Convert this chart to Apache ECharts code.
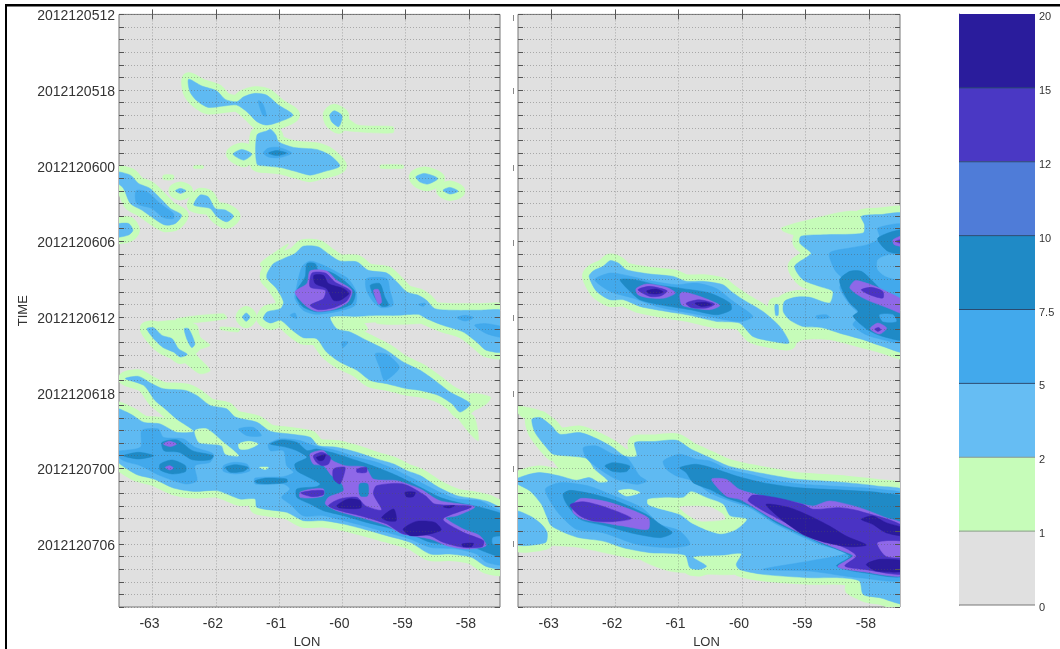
<!DOCTYPE html>
<html><head><meta charset="utf-8">
<style>html,body{margin:0;padding:0;background:#fff}#c{width:1060px;height:649px;filter:blur(0.45px)}</style>
<script src="https://cdn.jsdelivr.net/npm/echarts@6/dist/echarts.min.js"></script>
</head><body><div id="c"></div>
<script>
// Tick labels and colour-bar classes
const timeLabels = ['2012120512','2012120518','2012120600','2012120606','2012120612','2012120618','2012120700','2012120706'];
const lonTicks = [-63,-62,-61,-60,-59,-58];
const classBreaks = ['0','1','2','5','7.5','10','12','15','20'];
const barColors = ['#e0e0e0','#c6fcb9','#66bdf3','#42a9ec','#1f8ac6','#4f7cd8','#4a38c4','#2a1c9c'];
const fieldColors = ['#e0e0e0','#c6fcb9','#5fbaf2','#42a9ec','#1f8ac6','#8f68e8','#4a33c4','#2a1a9c'];

// Contour regions: flat lists of lon, hours-since-2012120512
const leftGreen = [
[-60,8,-59.75,8.78,-59.2,8.91,-59.2,9.39,-59.75,9.31,-60.04,9.04],
[-62.35,12,-62.2,12,-62.2,12.2,-62.35,12.2],
[-59.4,11.95,-59.04,11.95,-59.04,12.2,-59.4,12.2],
[-62.83,12.75,-62.67,12.75,-62.67,13.1,-62.83,13.1],
[-63.19,24.93,-63.09,24.53,-62.62,24.26,-62.3,24.66,-62.25,25.59,-62.09,26.25,-62.33,26.78,-62.09,28.23,-62.25,28.5,-62.51,27.57,-62.77,26.78,-63.09,25.85],
[-62.62,24.13,-61.88,23.74,-61.83,24.13,-62.62,24.53],
[-61.93,24.79,-61.62,24.93,-61.65,25.19,-61.93,25],
[-61.3,19.77,-61.06,18.84,-60.85,18.2,-61.19,20.3],
[-61.19,21.6,-60.93,21.6,-60.98,23.47,-61.2,23.6,-61.05,22.9],
[-60.19,24,-59.77,24,-59.6,25,-59.9,25.3,-60.12,25],
[-59.46,23.87,-58.78,23.87,-58.62,24.4,-59.04,24.58,-59.46,24.5],
[-57.98,30.1,-57.66,30.35,-57.72,30.88,-57.96,31.4],
[-58.22,31.56,-57.93,31.82,-57.85,33.8,-57.98,33.28]
];
const leftL2 = [
[-62.43,5.15,-62.22,5.68,-61.99,6.05,-61.85,6.74,-61.67,6.93,-61.56,6.53,-61.38,6.26,-61.2,6.4,-61.01,7.19,-60.78,7.98,-60.99,8.51,-61.2,8.78,-61.35,8.51,-61.51,7.72,-61.67,7.19,-61.88,7.27,-62.12,7.38,-62.3,6.85,-62.41,6.13],
[-61.35,9.57,-61.19,9.23,-61.13,9.12,-61.05,9.57,-61.01,10.1,-60.77,10.55,-60.41,10.71,-60.2,11.16,-60.04,12.03,-60.3,12.48,-60.51,12.75,-60.72,12.48,-60.98,12.14,-61.19,12.03,-61.35,11.87],
[-61.73,11.08,-61.59,10.71,-61.43,11.08,-61.56,11.56],
[-60.2,7.98,-60.13,7.64,-60.01,7.98,-60.01,8.38,-60.06,8.91,-60.17,8.51],
[-58.84,12.88,-58.7,12.61,-58.49,13.01,-58.65,13.46,-58.78,13.28],
[-58.41,13.94,-58.3,13.72,-58.17,14.02,-58.3,14.25],
[-62.64,13.99,-62.56,13.8,-62.47,13.99,-62.56,14.2],
[-62.35,15.1,-62.25,14.33,-62.12,14.47,-62.01,15.39,-61.85,15.52,-61.72,16,-61.83,16.45,-61.98,16.05,-62.09,15.39,-62.25,15.26],
[-63.6,12.48,-63.35,12.75,-63.22,13.41,-63.04,13.8,-62.85,14.73,-62.72,15.39,-62.54,15.92,-62.64,16.58,-62.8,16.71,-62.98,16.19,-63.17,15.52,-63.35,15,-63.46,13.8,-63.6,13.14],
[-63.6,16.71,-63.38,16.58,-63.31,17.11,-63.38,17.5,-63.6,17.64],
[-61.19,20.56,-61.09,19.77,-60.93,19.37,-60.75,18.97,-60.62,18.39,-60.38,18.44,-60.19,19.11,-60.04,19.56,-59.77,19.63,-59.59,20.3,-59.3,20.51,-59.14,21.22,-58.98,22.02,-58.8,22.28,-58.67,22.68,-58.54,23.34,-58.19,23.47,-57.88,23.47,-57.4,23.6,-57.4,26.7,-57.72,26.65,-57.88,25.98,-58.09,25.19,-58.41,24.66,-58.67,24.13,-58.8,23.79,-59.14,23.87,-59.46,23.87,-59.77,23.95,-60.19,24,-60.09,24.93,-59.88,25.19,-59.62,25.85,-59.3,26.65,-59.04,27.57,-58.77,28.23,-58.54,29.03,-58.3,29.95,-57.98,30.88,-58.14,31.54,-58.27,30.88,-58.48,30.22,-58.77,29.82,-58.98,29.69,-59.3,29.29,-59.56,29.03,-59.77,28.23,-60.04,27.57,-60.25,26.78,-60.41,25.72,-60.62,25.64,-60.8,25.01,-60.98,24.26,-61.14,24.48,-61.25,24.13,-61.19,23.6,-60.98,23.34,-60.93,22.81,-61.04,21.75,-61.19,20.96],
[-61.52,23.68,-61.46,24,-61.52,24.34,-61.58,24],
[-63.09,24.93,-62.98,24.85,-62.85,25.46,-62.69,25.72,-62.59,26.51,-62.45,26.96,-62.56,27.17,-62.67,26.78,-62.83,26.43,-62.96,25.85],
[-62.5,24.93,-62.43,24.93,-62.33,26.12,-62.38,26.43,-62.45,25.85],
[-63.43,28.89,-63.22,28.71,-63.01,29.29,-62.83,29.69,-62.48,29.82,-62.3,30.22,-62.09,31.01,-61.83,31.28,-61.69,31.94,-61.35,32.35,-61.14,33.06,-60.83,33.28,-60.51,33.54,-60.38,34.2,-60.09,34.33,-59.77,34.73,-59.46,35.26,-59.19,35.66,-58.98,36.19,-58.77,36.58,-58.48,37.51,-58.19,38.17,-57.88,38.43,-57.67,38.7,-57.4,39.62,-57.4,43.86,-57.72,43.8,-57.96,43.06,-58.3,42.8,-58.61,42.8,-58.93,41.87,-59.3,41.34,-59.67,40.81,-59.98,40.42,-60.3,40.15,-60.62,40.15,-60.88,39.49,-61.35,39.1,-61.38,38.43,-61.62,38.43,-61.98,37.77,-62.35,37.83,-62.67,37.56,-62.98,36.85,-63.27,36.45,-63.6,35.13,-63.6,31.29,-63.35,31.69,-63.14,32.35,-62.88,32.48,-62.62,33.14,-62.35,33.06,-62.62,32.09,-62.8,31.29,-62.96,30.63,-63.14,29.42]
];
const leftHoles = [
[-62.33,33.01,-62.14,32.88,-61.88,33.94,-61.64,35,-61.85,34.87,-61.91,34.2,-62.12,34.07,-62.27,33.94],
[-61.64,34.07,-61.48,33.86,-61.33,34.07,-61.49,34.47,-61.62,34.47],
[-61.31,35.92,-61.17,35.92,-61.22,36.1]
];
const leftL3 = [
[-61.25,11,-61.17,10.6,-61,10.55,-60.8,11,-61,11.37,-61.17,11.3],
[-63.26,13.99,-63.09,14.07,-62.88,15,-62.67,15.79,-62.67,16.19,-62.83,16.11,-63.01,15.39,-63.25,15],
[-61.33,6.85,-61.26,7.06,-61.2,8.06,-61.26,7.98],
[-60.73,21.75,-60.64,20.03,-60.51,19.56,-60.3,19.9,-60.09,20.43,-59.91,20.96,-59.78,22.02,-59.8,23.07,-60.04,23.52,-60.41,23.79,-60.62,23.47,-60.75,22.54],
[-59.62,20.96,-59.3,20.96,-59.25,21.88,-59.2,23.07,-59.38,23.26,-59.51,22.81,-59.62,21.88],
[-58.8,23,-58.69,22.9,-58.72,23.15],
[-58.19,24.05,-58.06,23.87,-57.93,24.05,-58.06,24.32],
[-57.91,24.66,-57.72,24.53,-57.4,24.93,-57.4,25.64,-57.72,25.32],
[-60.01,25.98,-59.91,25.98,-59.99,26.43],
[-59.48,26.91,-59.3,26.96,-59.1,28,-59.33,29.03,-59.41,28],
[-60.83,23.87,-60.75,23.68,-60.72,24.13],
[-63.6,34.73,-63.19,34.33,-63.17,33.01,-62.91,32.88,-62.83,33.54,-62.51,33.67,-62.33,34.33,-62.04,34.86,-62.09,35.52,-62.33,35.79,-62.3,36.98,-62.48,37.24,-62.88,36.58,-63.19,35.79,-63.46,35.39],
[-61.88,35.79,-61.72,35.52,-61.51,35.66,-61.46,36.19,-61.69,36.45,-61.88,36.24],
[-61.64,32.88,-61.41,32.75,-61.28,33.41,-61.51,33.41],
[-61.17,34.07,-60.98,33.67,-60.67,33.8,-60.46,34.2,-60.09,34.6,-59.77,35.13,-59.46,35.52,-59.19,36.05,-58.98,36.58,-58.77,37.11,-58.46,37.9,-58.19,38.43,-57.83,38.57,-57.62,39.1,-57.4,39.76,-57.4,43.59,-57.72,43.46,-57.88,42.8,-58.19,42.4,-58.61,42.27,-58.93,41.61,-59.3,41.08,-59.67,40.55,-59.98,40.15,-60.3,39.76,-60.62,39.76,-60.83,38.83,-60.96,38.3,-60.83,37.64,-60.93,37.24,-61.38,37.24,-61.38,36.77,-60.93,36.66,-60.77,36.32,-60.88,35.79,-60.93,34.6,-61.14,34.6]
];
const leftL4 = [
[-61.17,11,-61.04,10.8,-60.88,11,-61.04,11.2],
[-60.72,21.88,-60.59,20.83,-60.56,19.77,-60.43,19.77,-60.38,20.3,-60.19,20.43,-59.98,21.09,-59.8,22.02,-59.85,22.94,-60.09,23.41,-60.41,23.6,-60.62,23.21,-60.72,22.54],
[-59.56,21.49,-59.41,21.35,-59.33,22.41,-59.27,23.07,-59.38,23.15,-59.48,22.54],
[-62.85,33.94,-62.61,33.75,-62.37,34.6,-62.04,34.99,-62.09,35.33,-62.37,35.33,-62.58,34.73,-62.82,34.6],
[-62.88,35.66,-62.69,35.34,-62.48,35.79,-62.48,36.26,-62.69,36.45,-62.88,36.13],
[-63.46,35,-63.22,34.73,-62.98,35,-63.22,35.26],
[-61.85,35.92,-61.69,35.71,-61.49,35.92,-61.56,36.24,-61.77,36.32],
[-61.38,36.98,-61.19,36.77,-60.88,36.85,-60.88,37.11,-61.14,37.24,-61.35,37.19],
[-61.14,34.07,-60.96,33.75,-60.72,33.94,-60.56,34.6,-60.41,34.47,-60.09,34.86,-59.77,35.39,-59.46,35.92,-59.14,36.58,-58.77,37.51,-58.46,38.3,-58.19,38.7,-57.93,38.96,-57.72,39.23,-57.4,39.89,-57.4,43.06,-57.72,42.67,-57.93,42.27,-58.19,42.14,-58.61,41.87,-58.93,41.21,-59.3,40.68,-59.62,40.29,-59.98,39.76,-60.3,39.36,-60.51,38.83,-60.72,38.3,-60.72,37.64,-60.41,37.46,-60.35,37.24,-60.51,36.77,-60.72,36.19,-60.75,35.66,-60.56,35.13,-60.72,34.6,-60.93,34.28]
];
const leftL5 = [
[-60.75,22.02,-60.56,21.35,-60.51,20.35,-60.25,20.35,-60.09,21.09,-59.85,21.88,-59.91,22.81,-60.14,23.41,-60.41,23.55,-60.59,23.07],
[-59.51,21.88,-59.43,21.83,-59.38,22.81,-59.43,22.99],
[-62.83,34.07,-62.73,33.86,-62.62,34.07,-62.72,34.28],
[-62.8,35.92,-62.73,35.79,-62.67,35.97,-62.73,36.13],
[-60.51,34.86,-60.3,34.6,-60.17,35.34,-59.96,35.79,-59.64,35.92,-59.51,36.85,-59.14,36.98,-58.77,37.64,-58.46,38.57,-57.91,39.04,-58.19,39.76,-58.37,39.94,-58.09,40.81,-57.83,41.34,-57.73,42.14,-58.04,42.4,-58.35,42.14,-58.61,41.61,-59.04,41.21,-59.3,40.55,-59.72,39.89,-60.09,39.36,-60.27,38.83,-60.22,38.3,-59.98,37.77,-60.04,36.98,-60.17,36.58,-60.3,35.79,-60.46,35.66],
[-60.67,37.9,-60.48,37.64,-60.3,37.64,-60.3,38.17,-60.48,38.35,-60.67,38.3]
];
const leftL6 = [
[-60.51,21.62,-60.48,20.51,-60.27,20.51,-60.12,21.22,-59.87,21.94,-59.93,22.73,-60.14,23.26,-60.38,23.42,-60.51,23.07,-60.3,22.54,-60.27,21.88],
[-60.66,37.96,-60.48,37.77,-60.3,37.77,-60.3,38.09,-60.48,38.25],
[-60.46,35,-60.32,34.73,-60.19,35.13,-60.22,35.66,-60.32,35.79,-60.41,35.52],
[-60.14,36.05,-59.96,35.92,-59.98,36.58,-60.04,37.24,-60.14,36.85],
[-59.77,36.05,-59.62,35.92,-59.62,36.32,-59.77,36.32],
[-60.22,38.96,-60.04,38.43,-59.77,38.3,-59.64,38.96,-59.38,39.31,-59.51,38.04,-59.46,37.38,-59.04,37.24,-58.69,38.17,-58.54,38.83,-57.96,39.04,-58.41,40.02,-58.09,41.08,-57.77,41.74,-57.79,42.22,-58.09,42.27,-58.41,41.87,-58.62,41.34,-59.04,41.21,-59.3,40.42,-59.72,39.76,-60.04,39.36]
];
const leftL7 = [
[-60.45,20.69,-60.3,20.69,-60.22,21.35,-59.98,21.75,-59.9,22.15,-60.04,22.68,-60.14,22.68,-60.25,21.75,-60.43,21.35],
[-60.41,35.13,-60.27,34.92,-60.3,35.34,-60.37,35.39],
[-60.09,38.96,-59.91,38.43,-59.72,38.57,-59.71,39.15,-60.04,39.15],
[-59.04,40.82,-58.83,40.21,-58.54,40.29,-58.44,40.89,-58.67,41.26,-58.93,41.34],
[-59.38,39.89,-59.19,39.23,-59.15,40.15,-59.3,40.15],
[-59.01,37.9,-58.85,37.9,-58.88,38.25,-58.99,38.25],
[-58.41,39.04,-58.23,38.96,-58.31,39.15],
[-58.11,42,-57.93,41.95,-57.96,42.22,-58.09,42.22]
];
const leftPatches = [
[4,-59.73,37.24,-59.6,37.24,-59.6,38.17,-59.72,38.17],
[3,-57.62,41.48,-57.4,41.48,-57.4,42,-57.62,42]
];

const rightGreen = [
[-59.38,16.94,-59.04,16.41,-58.2,15.62,-58.09,17.34,-58.67,17.47,-59.09,17.6,-59.35,17.2],
[-59.56,23.03,-59.35,22.63,-59.04,24.88,-58.62,25.14,-57.99,26.07,-57.4,26.94,-57.4,27.26,-57.99,26.6,-58.62,25.8,-59.04,25.8,-59.27,26.33,-59.41,24.75],
[-61.71,42.56,-59.98,42.56,-60.04,44.28,-60.51,44.41,-61.14,44.15,-61.56,43.36],
[-63.6,37.14,-63,39.78,-63,40.58,-62.61,41.64,-61.56,43,-61.61,43.26,-62.61,42.25,-63.08,42.12,-63.6,42.12],
[-63.6,31.05,-63.18,31.45,-63.44,32],
[-58.36,45.2,-58.12,44.94,-58.09,46.1,-57.4,46.93,-58.09,46.5,-58.36,45.86],
[-63,35.02,-62.45,35.55,-62.11,37.14,-62.4,37,-62.87,36.08]
];
const rightL2 = [
[-62.41,20.78,-62.34,20.33,-62.19,19.98,-62.08,19.53,-61.95,19.72,-61.82,20.25,-61.45,20.59,-61.08,20.78,-60.88,21.17,-60.61,21.17,-60.3,21.44,-60.17,21.97,-59.98,22.63,-59.67,23.56,-59.43,24.61,-59.33,25.28,-59.26,26.07,-59.51,25.94,-59.83,25.54,-60.04,24.48,-60.4,24.35,-60.82,23.87,-61.03,23.69,-61.35,23.42,-61.61,23.16,-61.87,22.63,-62.08,22.63,-62.29,21.97],
[-59.48,23.03,-59.43,23.03,-59.43,23.87,-59.47,23.87],
[-58.12,16.02,-57.83,15.88,-57.4,15.94,-57.4,26.73,-57.78,26.33,-58.09,25.8,-58.46,25.28,-58.75,24.83,-59.04,24.75,-59.25,24.22,-59.35,23.56,-59.33,22.76,-59.14,22.42,-58.93,22.44,-58.62,22.89,-58.57,21.97,-58.78,21.57,-59.04,21.04,-59.17,19.98,-58.96,19.19,-58.91,18.93,-59.09,18.13,-59.07,17.6,-58.67,17.47,-58.09,17.34,-58.07,16.68],
[-63.31,32.11,-63.18,31.98,-63,32.64,-62.87,33.3,-62.55,33.17,-62.27,33.7,-62.03,34.36,-61.85,35.02,-61.66,35.02,-61.69,33.96,-61.4,33.88,-61.03,33.78,-60.8,34.49,-60.51,35.15,-60.22,35.81,-59.88,36.21,-59.46,36.61,-59.14,36.87,-58.72,37.01,-58.36,37.14,-57.88,37.4,-57.4,37.93,-57.4,46.66,-57.83,46.26,-58.09,46,-58.15,44.94,-58.46,44.68,-58.93,44.68,-59.67,44.41,-60.04,44.02,-60.09,43.62,-60.01,42.77,-60.3,42.88,-60.77,43.04,-60.56,43.75,-60.67,44.02,-60.82,43.88,-60.9,42.88,-61.45,42.69,-61.87,42.3,-62.19,41.77,-62.61,41.45,-63,40.58,-63.08,39.78,-63.16,38.86,-63.34,37.8,-63.6,37.01,-63.39,36.53,-63.18,36.34,-62.87,36.61,-62.61,36.95,-62.4,36.74,-62.24,37.14,-62.11,37.01,-62.32,36.08,-62.45,35.21,-62.97,34.89,-63.08,34.36,-63.26,33.17],
[-63.6,39.39,-63.34,39.78,-63.16,40.44,-63.07,41.11,-63.1,41.9,-63.6,41.98]
];
const rightHoles = [
[-61.48,38.46,-61.19,38.33,-60.93,38.33,-60.8,37.85,-60.56,38.33,-60.3,38.86,-60.19,39.78,-59.93,40.05,-60.09,40.84,-60.32,41.19,-60.51,40.97,-60.8,40.31,-60.98,39.65,-61.35,39.12,-61.48,38.86],
[-61.95,37.8,-61.77,37.67,-61.61,37.93,-61.82,38.2]
];
const rightL3 = [
[-62.32,21.04,-62.08,20.51,-61.82,20.7,-61.4,21.17,-61.03,21.44,-60.72,21.31,-60.4,21.75,-60.14,22.76,-59.83,23.95,-60.01,24.35,-60.4,24.09,-60.82,23.69,-61.35,23.16,-61.72,22.5,-62.08,21.97],
[-57.86,16.94,-57.4,16.81,-57.4,25.94,-57.88,25.67,-58.09,25.28,-58.25,24.61,-58.15,23.82,-58.3,23.03,-58.46,21.7,-58.41,21.04,-58.54,20.25,-58.62,18.93,-58.3,18.53,-58.02,18.26,-57.83,17.74],
[-58.83,23.9,-58.67,23.82,-58.62,24.04,-58.81,24.14],
[-62.5,34.36,-62.29,34.23,-62.03,34.89,-61.82,35.12,-61.61,36.61,-61.5,37.01,-61.66,37.27,-61.98,36.87,-62.24,36.08,-62.45,35.21],
[-63.1,37.67,-62.87,37.14,-62.42,37.4,-62.08,38.06,-61.58,39.12,-61.29,40.44,-60.98,40.97,-60.82,42.03,-61.14,42.3,-61.66,42.03,-62.19,41.11,-62.61,40.84,-62.92,39.39],
[-61.24,35.42,-60.98,34.89,-60.72,35.29,-60.51,35.42,-60.22,36.08,-59.88,36.48,-59.46,37.01,-59.04,37.27,-58.62,37.4,-58.15,37.53,-57.83,37.67,-57.4,38.2,-57.4,44.68,-58.15,44.68,-58.93,44.15,-59.67,44.02,-58.93,43.35,-58.33,42.69,-58.78,42.03,-59.46,40.44,-59.88,39.12,-60.19,38.59,-60.51,37.93,-60.77,37.01,-61.03,36.61,-61.19,36.08]
];
const rightL4 = [
[-61.92,21.04,-61.69,21.04,-61.35,21.44,-60.93,21.75,-60.51,22.1,-60.19,22.89,-60.17,23.42,-60.4,23.82,-60.82,23.42,-61.29,23.03,-61.61,22.63,-61.79,21.84],
[-58.46,21.04,-58.3,20.38,-58.12,20.38,-57.94,21.17,-57.67,22.5,-57.4,23.03,-57.4,25.8,-57.78,25.54,-58.02,25.01,-58.25,23.95,-58.17,23.56,-58.3,22.89,-58.41,21.97],
[-57.86,17.74,-57.4,17.07,-57.4,18.93,-57.7,18.79],
[-62.16,35.81,-62.03,35.55,-61.77,35.81,-61.82,36.26,-62.03,36.26],
[-62.82,38.06,-62.71,37.75,-62.34,38.06,-61.98,38.59,-61.51,39.65,-61.29,40.44,-61.1,41.11,-61.29,41.5,-61.76,41.11,-62.13,40.58,-62.55,40.05,-62.76,38.86],
[-60.98,35.95,-60.72,35.68,-60.4,36.08,-60.09,36.61,-59.67,37.14,-59.14,37.53,-58.67,37.67,-58.15,37.8,-57.83,37.93,-57.4,38.46,-57.4,44.41,-58.09,44.28,-58.51,43.75,-58.3,42.96,-58.78,41.9,-59.46,40.31,-59.88,38.99,-60.25,38.33,-60.51,37.67,-60.77,37.14,-60.88,36.34]
];
const rightL5 = [
[-61.67,21.76,-61.5,21.38,-61.19,21.65,-61.05,22.1,-61.22,22.5,-61.45,22.5,-61.64,22.23],
[-60.98,22.23,-60.93,22.02,-60.67,22.36,-60.35,23.08,-60.51,23.42,-60.82,23.24,-60.95,23.03],
[-57.62,17.87,-57.4,17.47,-57.4,18.4,-57.6,18.26],
[-58.3,21.7,-58.22,21.12,-58.04,21.31,-57.78,21.84,-57.4,22.89,-57.4,23.82,-57.7,23.29,-58.09,22.5],
[-57.98,24.93,-57.86,24.48,-57.72,24.88,-57.83,25.35],
[-62.66,38.86,-62.53,38.38,-62.08,38.72,-61.48,39.92,-61.48,40.84,-61.87,40.58,-62.19,40.31,-62.5,40.05,-62.66,39.52],
[-60.48,36.87,-60.25,36.87,-60.04,37.67,-59.67,38.2,-59.14,38.72,-58.88,38.99,-58.62,38.59,-58.15,39.12,-57.73,39.92,-57.4,40.58,-57.4,44.41,-58.09,44.2,-58.49,43.8,-58.25,42.96,-58.41,42.56,-58.93,41.5,-59.46,40.18,-59.85,38.99,-60.04,38.46,-60.25,38.2]
];
const rightL6 = [
[-61.64,21.84,-61.45,21.57,-61.18,21.92,-61.27,22.31,-61.45,22.37],
[-60.88,22.9,-60.67,22.63,-60.43,22.97,-60.56,23.29,-60.8,23.24],
[-57.58,18,-57.4,17.79,-57.4,18.26],
[-58.12,21.84,-57.96,21.65,-57.78,21.97,-57.78,22.5,-57.99,22.23],
[-57.91,24.96,-57.85,24.83,-57.81,25.01,-57.86,25.14],
[-62.71,38.91,-62.5,38.65,-62.13,39.12,-61.74,39.97,-62.03,40.23,-62.34,40.18,-62.55,39.78],
[-59.9,38.59,-59.83,38.12,-59.46,38.33,-59.04,38.86,-58.88,39.25,-58.46,39.12,-58.15,39.39,-57.4,40.84,-57.4,44.28,-58.07,44.02,-58.38,43.75,-58.2,42.96,-58.38,42.3,-58.93,41.24,-59.46,39.92]
];
const rightL7 = [
[-61.5,21.92,-61.35,21.78,-61.24,22.02,-61.35,22.18,-61.48,22.1],
[-60.74,22.9,-60.56,22.84,-60.48,23.03,-60.64,23.16],
[-59.62,38.86,-59.25,39.12,-58.93,39.78,-58.62,40.58,-58.36,41.37,-58.04,42.08,-58.3,42.22,-58.67,41.9,-59.04,41.24,-59.41,39.92],
[-58.04,43.62,-57.83,43.22,-57.4,43.41,-57.4,44.15,-57.88,44.15],
[-58.12,40.05,-57.94,39.78,-57.73,40.31,-57.4,40.84,-57.4,41.37,-57.73,41.11,-57.94,40.44]
];
const rightPatches = [
[2,-57.86,19.46,-57.68,19.06,-57.4,19.19,-57.4,21.04,-57.73,20.78,-57.86,20.25],
[3,-57.83,23.82,-57.62,23.82,-57.57,24.35,-57.78,24.35],
[5,-57.86,41.9,-57.4,41.9,-57.4,42.96,-57.73,42.96],
[0,-60.98,39.07,-60.51,39.07,-60.3,39.65,-60.27,40.05,-60.66,40.18,-60.87,39.65]
];

function buildShapes(g, l2, holes, l3, l4, l5, l6, l7, patches) {
  const s = [];
  const add = (list, level, halo) => list.forEach(p => s.push({level, pts: p, halo: !!halo}));
  add(g, 1);
  add(l2, 1, true);
  add(l2, 2);
  add(holes, 1);
  add(l3, 3); add(l4, 4); add(l5, 5); add(l6, 6); add(l7, 7);
  patches.forEach(p => s.push({level: p[0], pts: p.slice(1), halo: false}));
  return s;
}
const panels = [
  buildShapes(leftGreen, leftL2, leftHoles, leftL3, leftL4, leftL5, leftL6, leftL7, leftPatches),
  buildShapes(rightGreen, rightL2, rightHoles, rightL3, rightL4, rightL5, rightL6, rightL7, rightPatches)
];

const font = '"Liberation Sans", Arial, Helvetica, sans-serif';
const gridBoxes = [
  {left:119, top:14.4, width:381, height:592.6},
  {left:518, top:14.4, width:382, height:592.6},
  {left:959, top:14, width:76, height:591}
];
const tickLine = {show:true, inside:true, length:5, lineStyle:{color:'#555', width:1}};
const dotted = {show:true, lineStyle:{color:'rgba(85,85,85,0.4)', width:1, type:[1,2]}};
const xAxes = [], yAxes = [], series = [];
panels.forEach((shapes, i) => {
  xAxes.push({type:'value', gridIndex:i, min:-63.53, max:-57.51, position:'bottom', z:5,
    name:'LON', nameLocation:'middle', nameGap:27, nameTextStyle:{fontFamily:font, fontSize:13, color:'#333', padding:[0,5,0,0]},
    axisLine:{show:false}, axisTick:Object.assign({customValues:lonTicks}, tickLine), splitLine:dotted,
    axisLabel:{customValues:lonTicks, margin:10, padding:[0,6,0,0], fontFamily:font, fontSize:14, color:'#333', showMinLabel:true, showMaxLabel:true}});
  xAxes.push({type:'value', gridIndex:i, min:-63.53, max:-57.51, position:'top', z:5,
    axisLine:{show:false}, axisTick:Object.assign({customValues:lonTicks}, tickLine), splitLine:{show:false}, axisLabel:{show:false}});
  yAxes.push({type:'value', gridIndex:i, min:0, max:47, interval:1, inverse:true, position:'left', z:5,
    name:i===0?'TIME':'', nameLocation:'middle', nameGap:89, nameTextStyle:{fontFamily:font, fontSize:13, color:'#333'},
    axisLine:{show:false}, axisTick:tickLine, splitLine:dotted,
    axisLabel:{show:i===0, customValues:timeLabels.map((_,k)=>k*6), margin:4, color:'#333',
      formatter:v=>'{t|'+timeLabels[v/6]+'}',
      rich:{t:{fontFamily:font, fontSize:14, color:'#333', padding:[4,0,0,0]}}}});
  yAxes.push({type:'value', gridIndex:i, min:0, max:47, interval:1, inverse:true, position:'right', z:5,
    axisLine:{show:false}, axisTick:tickLine, splitLine:{show:false}, axisLabel:{show:false}});
  series.push({type:'custom', xAxisIndex:i*2, yAxisIndex:i*2, clip:true, silent:true, z:2,
    data:shapes.map((_,k)=>[k]), encode:{x:[], y:[]},
    renderItem:(params, api) => {
      const sh = shapes[api.value(0)], points = [];
      for (let k=0;k<sh.pts.length;k+=2) points.push(api.coord([sh.pts[k], sh.pts[k+1]]));
      const c = fieldColors[sh.level];
      return {type:'polygon', shape:{points, smooth:0.25},
        style: sh.halo ? {fill:c, stroke:c, lineWidth:14, lineJoin:'round'} : {fill:c, stroke:c, lineWidth:0.5}};
    }});
});
// colour bar
xAxes.push({type:'value', gridIndex:2, min:0, max:1, show:false});
yAxes.push({type:'value', gridIndex:2, min:0, max:8, interval:1, position:'right',
  axisLine:{show:true, lineStyle:{color:'#777', width:1}}, axisTick:{show:false}, splitLine:{show:false},
  axisLabel:{margin:4, color:'#333', formatter:v=>'{c|'+classBreaks[v]+'}',
    rich:{c:{fontFamily:font, fontSize:11, color:'#333', padding:[6,0,0,0]}}}});
series.push({type:'custom', xAxisIndex:4, yAxisIndex:4, silent:true,
  data:barColors.map((_,k)=>[k]), encode:{x:[], y:[]},
  renderItem:(params, api) => {
    const k = api.value(0), a = api.coord([0,k+1]), b = api.coord([1,k]);
    return {type:'group', children:[
      {type:'rect', shape:{x:a[0], y:a[1], width:b[0]-a[0], height:b[1]-a[1]}, style:{fill:barColors[k]}},
      {type:'line', shape:{x1:a[0], y1:b[1], x2:b[0], y2:b[1]}, style:{stroke:k<1?'#777':(k<3?'#8a9a8a':'#2a4a70'), lineWidth:1}}
    ]};
  }});

// short remnants of the clipped labels beside the right panel
const remnantTops = [15,88,165,240,315,391,466,541];
const chart = echarts.init(document.getElementById('c'), null, {renderer:'canvas'});
chart.setOption({
  animation:false, backgroundColor:'#fff',
  grid: gridBoxes.map((b,i)=>Object.assign({containLabel:false, outerBoundsMode:'none', show:i<2, backgroundColor:'#e0e0e0', borderColor:'#777', borderWidth:1}, b)),
  xAxis:xAxes, yAxis:yAxes, series,
  graphic:[
    {type:'rect', left:5, top:4, shape:{width:1055, height:2.5}, style:{fill:'#000'}, silent:true},
    {type:'rect', left:5, top:4, shape:{width:2, height:645}, style:{fill:'#000'}, silent:true}
  ].concat(remnantTops.map(t=>({type:'rect', left:513, top:t, shape:{width:1, height:6}, style:{fill:'#888'}, silent:true})))
});
</script></body></html>
